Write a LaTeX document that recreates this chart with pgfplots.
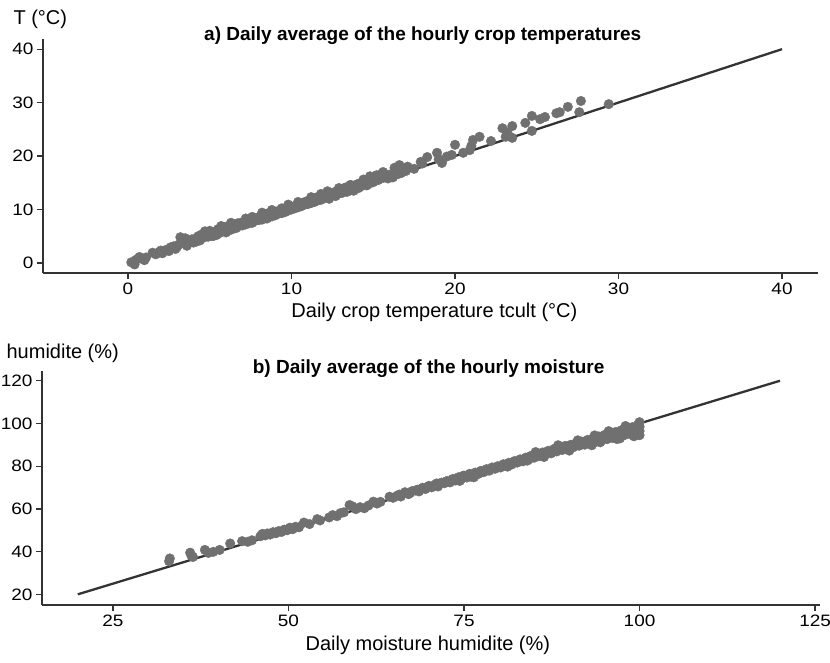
\documentclass[border=0pt]{standalone}
\usepackage{pgfplots}
\pgfplotsset{compat=1.18}
\usepackage{fontspec}
\setmainfont{Liberation Sans}
\newfontfamily\tickfont{Liberation Sans}[FakeStretch=1.15]
\definecolor{dotgray}{RGB}{112,112,112}
\definecolor{linegray}{RGB}{51,51,51}
\pgfplotsset{
  panel/.style={
    scale only axis,
    axis x line=bottom, axis y line=left,
    axis line style={-, linegray, line width=1.6pt},
    tick style={linegray, line width=1.3pt},
    major tick length=6pt,
    tick align=outside,
    /pgf/number format/assume math mode=true,
    ticklabel style={font=\tickfont\fontsize{16.5}{18}\selectfont, text=black},
    xticklabel style={yshift=-0.5pt},
    label style={font=\fontsize{20}{22}\selectfont},
    clip=false,
  },
  dots/.style={only marks, mark=*, mark size=4.8pt, color=dotgray, mark options={draw=dotgray, fill=dotgray}},
  fitline/.style={no marks, linegray, line width=2.3pt},
}
\begin{document}
\begin{tikzpicture}
\useasboundingbox (0pt,0pt) rectangle (830pt,-662pt);
% ---------- panel a ----------
\begin{axis}[panel,
  at={(43pt,-273pt)}, anchor=south west,
  width=775pt, height=234pt,
  xmin=-5.2, xmax=42.2, ymin=-1.9, ymax=41.9,
  xtick={0,10,20,30,40}, ytick={0,10,20,30,40},
  xlabel={Daily crop temperature tcult (°C)},
  xlabel style={at={(axis description cs:0.505,-0.188)}, anchor=base},
  ylabel={T (°C)},
  ylabel style={rotate=-90, at={(axis description cs:-0.0426,1.064)}, anchor=base west},
  title={\bfseries a) Daily average of the hourly crop temperatures},
  title style={font=\fontsize{19}{21}\selectfont, at={(axis description cs:0.49,0.966)}, anchor=base},
]
\addplot[dots] coordinates {
(0.2,0.1)(0.4,-0.3)(0.5,0.6)(0.7,1.1)(0.9,0.8)(1.1,1.0)(1.5,1.9)(1.7,1.6)(1.9,2.0)(2.1,1.8)
(2.3,2.4)(2.5,2.2)(2.6,2.9)(2.8,3.1)(2.9,2.6)(3.1,3.4)(3.3,4.5)(3.4,3.8)(3.5,4.6)(3.6,3.2)
(3.7,4.1)(3.9,4.4)(4.0,3.8)(4.1,4.5)(4.3,5.0)(4.4,4.2)(4.5,5.3)(4.6,4.7)(4.8,5.4)(4.9,4.9)
(5.0,5.5)(5.1,5.1)(5.3,5.8)(5.4,5.2)(5.5,6.3)(5.6,5.6)(5.8,6.0)(5.9,6.7)(6.0,6.1)(6.1,6.5)
(6.2,7.0)(6.3,6.2)(6.4,6.8)(6.5,7.2)(6.6,6.5)(6.7,7.4)(6.8,6.9)(6.9,7.5)(7.0,7.0)(7.1,7.6)
(7.2,7.2)(7.3,7.8)(7.4,7.4)(7.5,8.0)(7.6,7.5)(7.7,8.2)(7.8,7.9)(7.9,8.4)(8.0,8.0)(8.1,8.6)
(8.2,8.1)(8.3,8.9)(8.4,8.4)(8.5,9.2)(8.6,8.6)(8.7,9.4)(8.8,8.7)(8.9,9.5)(9.0,8.9)(9.1,9.6)
(9.2,9.2)(9.3,9.8)(9.4,9.3)(9.5,9.7)(9.6,9.5)(9.7,10.1)(9.8,9.8)(9.9,10.3)(10.0,10.0)(10.1,10.5)
(10.2,10.2)(10.3,10.8)(10.4,10.4)(10.5,11.0)(10.6,10.6)(10.7,11.2)(10.8,10.9)(10.9,11.5)(11.0,11.0)(11.1,11.6)
(11.2,11.2)(11.3,11.9)(11.4,11.4)(11.5,12.2)(11.6,11.7)(11.7,12.4)(11.8,11.8)(11.9,12.6)(12.0,12.1)(12.1,12.8)
(12.2,12.3)(12.3,12.0)(12.4,13.0)(12.5,12.6)(12.6,13.2)(12.7,12.5)(12.8,13.4)(12.9,13.0)(13.0,13.6)(13.1,13.1)
(13.2,13.9)(13.4,13.3)(13.5,14.2)(13.6,13.6)(13.7,14.4)(13.8,13.5)(13.9,14.1)(14.0,14.7)(14.1,14.0)(14.2,14.9)
(14.3,14.4)(14.5,15.0)(14.6,14.5)(14.7,15.3)(14.8,14.9)(14.9,15.6)(15.0,15.1)(15.1,15.8)(15.2,16.4)(15.3,15.5)
(15.4,16.1)(15.5,16.6)(15.6,15.9)(15.8,16.4)(15.9,15.8)(16.0,16.5)(16.2,16.0)(16.3,17.8)(16.5,16.6)(16.6,18.3)
(16.7,16.8)(16.8,17.5)(17.0,17.2)(17.1,18.0)
(1.0,0.5)(2.0,2.3)(3.0,3.0)(4.2,4.0)(5.2,5.0)(6.0,5.7)(7.0,7.4)(8.0,8.5)(9.0,9.3)(10.0,10.5)
(11.0,11.4)(12.0,12.5)(13.0,13.2)(14.0,14.3)(15.0,15.4)(8.5,8.3)(6.5,6.5)(11.5,11.6)(13.3,14.1)(10.8,11.3)
(3.2,4.8)(4.7,5.9)(5.7,6.9)(6.3,7.5)(7.2,8.3)(8.2,9.4)(8.8,9.9)(9.4,10.2)(10.4,11.4)(11.2,12.3)
(12.2,13.4)(12.9,14.0)(13.6,14.6)(14.4,15.6)(15.6,17.0)(14.8,16.2)(11.8,12.9)(9.8,10.9)(7.6,8.6)(5.0,6.0)
(17.9,18.9)(18.3,19.8)(18.9,20.6)(19.2,18.7)(19.5,19.9)(19.8,20.2)(20.0,22.1)(20.5,20.6)(20.9,21.1)(21.0,21.9)
(21.1,23.0)(21.5,23.6)(22.2,22.8)(22.9,25.2)(23.1,23.6)(23.5,23.4)(23.5,25.6)(23.2,24.4)(24.3,26.2)(24.7,24.7)
(24.7,27.5)(25.2,26.9)(25.5,27.3)(26.2,28.0)(26.4,28.2)(26.9,29.2)(27.6,28.2)(27.7,30.3)(29.4,29.7)(17.5,17.6)
(18.0,18.6)(19.0,19.4)
};
\addplot[fitline] coordinates {(0,0)(40,40)};
\end{axis}
% ---------- panel b ----------
\begin{axis}[panel,
  at={(42pt,-605pt)}, anchor=south west,
  width=778pt, height=234.3pt,
  xmin=14.9, xmax=125.7, ymin=15, ymax=124.7,
  xtick={25,50,75,100,125}, ytick={20,40,60,80,100,120},
  xlabel={Daily moisture humidite (\%)},
  xlabel style={at={(axis description cs:0.496,-0.196)}, anchor=base},
  ylabel={humidite (\%)},
  ylabel style={rotate=-90, at={(axis description cs:-0.05,1.05)}, anchor=base west},
  title={\bfseries b) Daily average of the hourly moisture},
  title style={font=\fontsize{19}{21}\selectfont, at={(axis description cs:0.497,0.963)}, anchor=base},
]
\addplot[dots] coordinates {
(33.0,35.5)(33.1,36.8)(36.0,39.5)(36.2,38.0)(36.4,37.5)(38.1,40.8)(38.6,39.4)(39.3,39.9)(40.2,40.8)(41.7,43.8)
(43.4,44.9)(44.2,44.6)(44.8,45.3)(46.0,47.2)(46.3,48.3)(46.7,47.6)(47.0,48.5)(47.4,48.0)(47.8,49.1)(48.2,48.6)
(48.6,49.6)(49.0,49.2)(49.4,50.3)(49.8,50.0)(50.2,51.2)(50.6,50.5)(51.0,51.6)(51.5,51.4)(52.2,53.6)(53.0,52.9)
(54.1,55.2)(54.5,54.6)(55.8,56.0)(56.3,57.1)(56.9,56.6)(57.4,58.0)(57.9,58.4)(58.7,61.8)(59.1,61.2)(59.6,59.9)
(60.2,60.8)(60.8,60.3)(61.4,61.6)(62.1,63.4)(62.6,62.5)(63.1,63.3)(64.4,65.7)(64.9,65.2)(65.5,66.2)(66.0,65.8)
(66.6,67.8)(67.1,66.9)(67.6,68.3)(68.1,68.6)(68.6,68.2)(69.1,69.9)(69.5,69.3)(70.0,70.8)(70.4,70.1)(70.9,71.4)
(71.3,70.5)(71.8,72.3)(72.2,72.0)(72.6,73.1)(73.0,72.4)(73.4,74.0)(73.8,73.3)(74.2,74.8)(74.6,74.0)(75.0,75.6)
(75.4,74.7)(75.8,76.4)(76.2,75.9)(76.6,77.0)(77.0,76.3)(77.4,77.8)(77.8,77.2)(78.2,78.6)(78.6,77.9)(79.0,79.4)
(79.4,78.8)(79.8,80.0)(80.2,79.4)(80.6,80.9)(81.0,80.2)(81.4,81.6)(81.8,80.8)(82.2,82.4)(82.6,81.7)(83.0,83.2)
(83.4,82.3)(83.8,84.0)(84.2,83.1)(84.6,84.9)(85.0,84.0)(85.4,85.6)(85.8,84.7)(86.2,86.4)(86.6,85.6)(87.0,87.2)
(87.4,86.0)(87.8,87.9)(88.2,86.9)(88.6,88.8)(89.0,87.6)(89.4,89.5)(89.8,88.3)(90.2,90.0)(90.6,88.9)(91.0,90.9)
(91.4,89.6)(91.8,91.5)(92.2,90.1)(92.6,92.3)(93.0,90.8)(93.4,93.1)(93.8,91.4)(94.2,93.9)(94.6,92.0)(95.0,94.6)
(95.4,92.7)(95.8,95.2)(96.2,93.2)(96.6,96.0)(97.0,93.9)(97.4,96.8)(97.8,94.5)(98.2,97.5)(98.6,95.1)(99.0,98.3)
(99.4,96.0)(99.8,99.5)(100.0,94.5)(100.0,96.5)(100.0,98.5)(100.0,100.6)(99.6,97.4)(98.8,96.7)(97.6,95.6)(96.4,94.6)
(95.2,93.6)(94.0,93.0)(92.8,91.6)(91.6,90.8)(90.4,89.4)(89.2,88.6)(88.0,88.3)(86.8,86.7)(85.6,85.0)(84.4,84.5)
(83.2,82.9)(82.0,81.9)(80.8,80.4)(79.6,79.1)(78.4,78.3)(77.2,76.9)(76.0,75.1)(74.8,75.3)(73.6,73.8)(72.4,72.7)
(71.1,71.9)(69.8,70.2)(68.4,69.0)(67.3,67.4)(65.8,66.7)(90.0,87.3)(93.2,89.8)(96.8,92.7)(99.2,94.0)(97.2,93.0)
(94.4,91.2)(86.4,84.3)(84.0,82.6)(81.2,79.8)(76.4,74.8)(74.4,73.1)(85.2,86.6)(88.4,89.8)(91.2,92.1)(93.6,94.4)
(95.6,96.4)(98.0,98.8)
};
\addplot[fitline] coordinates {(20,20)(120,120)};
\end{axis}
\end{tikzpicture}
\end{document}
